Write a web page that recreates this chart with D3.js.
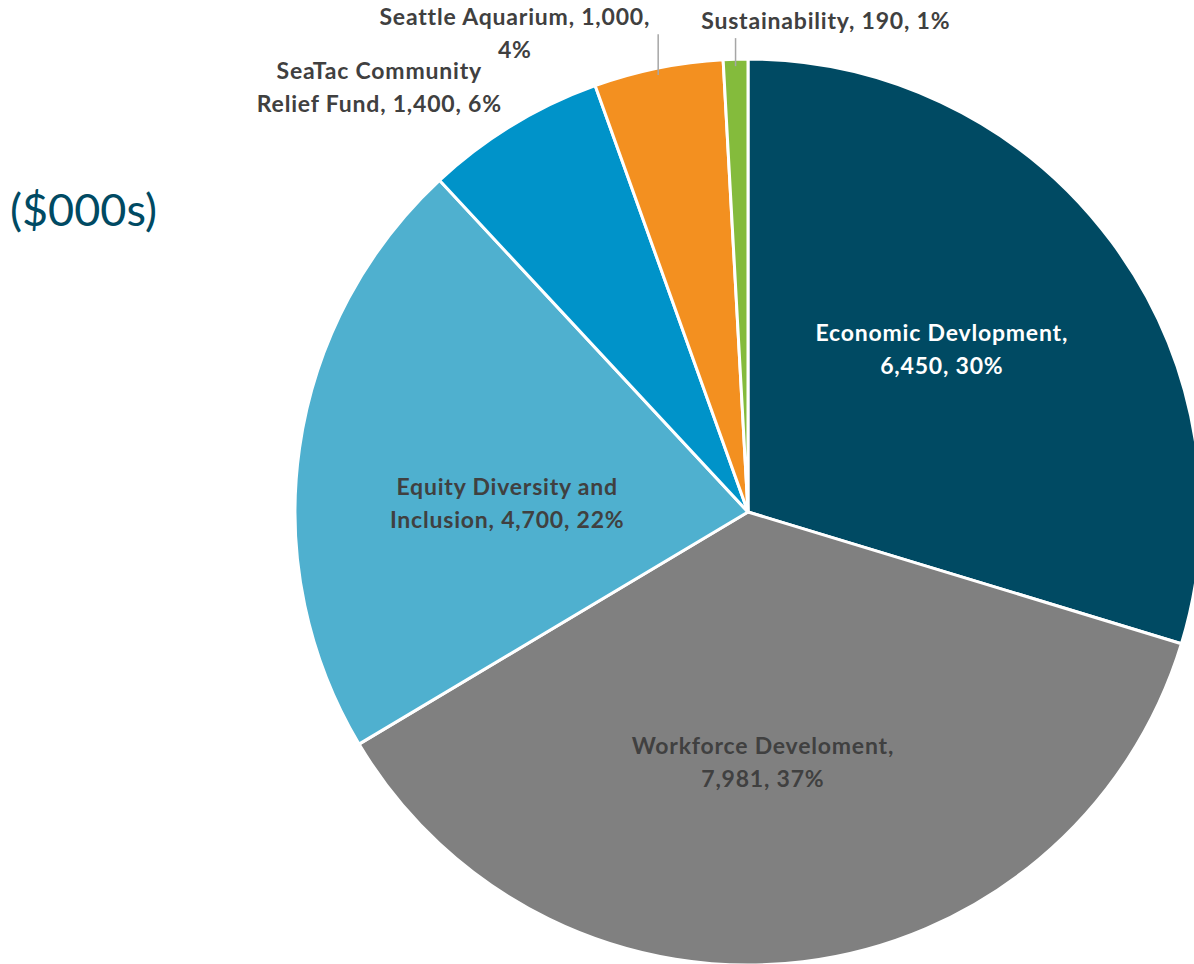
<!DOCTYPE html>
<html>
<head>
<meta charset="utf-8">
<script src="https://cdn.jsdelivr.net/npm/d3@7"></script>
<style>
	body { margin: 0; background: #fff; }
	svg { display: block; }
</style>
</head>
<body>
<div id="chart-area"></div>
<script>
const width = 1194
const height = 964

// data
const categories = ['Economic Devlopment', 'Workforce Develoment', 'Equity Diversity and Inclusion',
	'SeaTac Community Relief Fund', 'Seattle Aquarium', 'Sustainability']
const values = [6450, 7981, 4700, 1400, 1000, 190]
const percents = ['30%', '37%', '22%', '6%', '4%', '1%']

// label text split into lines
const labelLines = [
	['Economic Devlopment,', '6,450, 30%'],
	['Workforce Develoment,', '7,981, 37%'],
	['Equity Diversity and', 'Inclusion, 4,700, 22%'],
	['SeaTac Community', 'Relief Fund, 1,400, 6%'],
	['Seattle Aquarium, 1,000,', '4%'],
	['Sustainability, 190, 1%']
]

const colors = d3.scaleOrdinal()
	.domain(categories)
	.range(['#004a63', '#808080', '#4fb0cf', '#0093c9', '#f39020', '#84bb3c'])

const labelFill = ['#ffffff', '#404040', '#404040', '#404040', '#404040', '#404040']

// label centre as [angle deg, radius] from pie centre
const labelPos = [[50, 253], [176.6, 251], [272, 241], [319, 562], [334, 532], [9, 497]]
const leader = [false, false, false, false, true, true]

const cx = 748
const cy = 512
const radius = 453

let svg = d3.select('#chart-area')
	.append('svg')
	.attr('width', width)
	.attr('height', height)

// units note
svg.append('text')
	.attr('x', 10)
	.attr('y', 226)
	.attr('font-family', 'Lato, sans-serif')
	.attr('font-size', 45)
	.attr('fill', '#004a63')
	.text('($000s)')

let g = svg.append('g')
	.attr('transform', 'translate(' + cx + ',' + cy + ')')

const pie = d3.pie().sort(null).value(d => d.value)
const arcs = pie(categories.map((c, i) => ({ name: c, value: values[i], i: i })))

const arc = d3.arc().innerRadius(0).outerRadius(radius)

g.selectAll('path.slice')
	.data(arcs)
	.enter()
	.append('path')
	.attr('class', 'slice')
	.attr('d', arc)
	.attr('fill', d => colors(d.data.name))
	.attr('stroke', '#fff')
	.attr('stroke-width', 3)
	.attr('stroke-linejoin', 'round')

const lineH = 33

function labelCentre(d) {
	const p = labelPos[d.data.i]
	const a = p[0] * Math.PI / 180
	return [Math.sin(a) * p[1], -Math.cos(a) * p[1]]
}

// leader lines
arcs.forEach(d => {
	if (!leader[d.data.i]) return
	const mid = (d.startAngle + d.endAngle) / 2
	const x = Math.sin(mid) * radius
	const y = -Math.cos(mid) * (radius - 4)
	const c = labelCentre(d)
	const n = labelLines[d.data.i].length
	const top = c[1] - (n - 1) * lineH / 2 + 17
	g.append('line')
		.attr('x1', x).attr('y1', y + 3)
		.attr('x2', x).attr('y2', top)
		.attr('stroke', '#a6a6a6')
		.attr('stroke-width', 1.5)
})

let labels = g.selectAll('text.lbl')
	.data(arcs)
	.enter()
	.append('text')
	.attr('class', 'lbl')
	.attr('text-anchor', 'middle')
	.attr('font-family', 'Lato, sans-serif')
	.attr('font-weight', 700)
	.attr('font-size', 23)
	.attr('letter-spacing', 0.8)
	.attr('fill', d => labelFill[d.data.i])
	.attr('transform', d => 'translate(' + labelCentre(d) + ')')

labels.each(function (d) {
	const lines = labelLines[d.data.i]
	const t = d3.select(this)
	lines.forEach((l, k) => {
		t.append('tspan')
			.attr('x', 0)
			.attr('y', (k - (lines.length - 1) / 2) * lineH + 8)
			.text(l)
	})
})
</script>
</body>
</html>
